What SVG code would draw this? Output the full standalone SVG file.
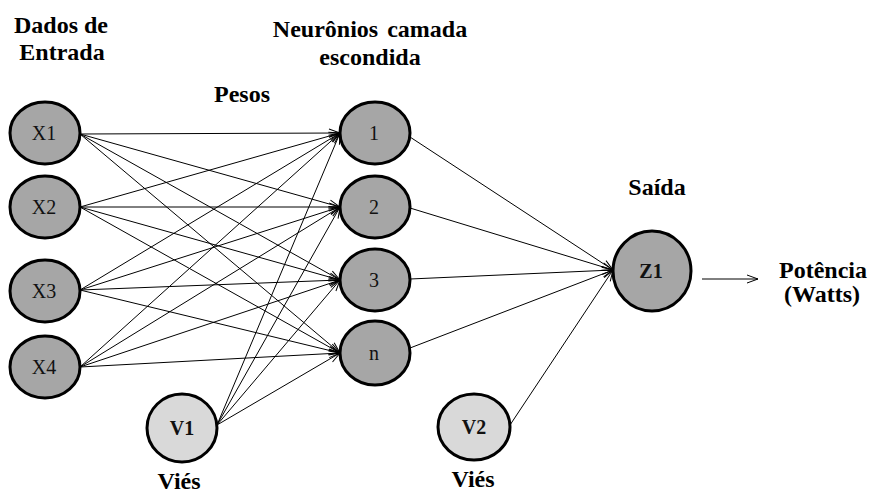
<svg xmlns="http://www.w3.org/2000/svg" width="870" height="494" viewBox="0 0 870 494">
<style>
.n{fill:#a6a6a6;stroke:#000;stroke-width:3}
.b{fill:#d9d9d9;stroke:#000;stroke-width:3}
text{font-family:'Liberation Serif','Times New Roman','DejaVu Serif',serif;text-anchor:middle}
.t{font-size:20px;fill:#111}
.tb{font-size:20px;font-weight:bold;fill:#111}
.h{font-size:24px;font-weight:bold;fill:#000}
.c line{stroke:#000;stroke-width:1;marker-end:url(#a)}
</style>
<defs>
<marker id="a" markerUnits="userSpaceOnUse" markerWidth="14" markerHeight="12" refX="12" refY="5" orient="auto" viewBox="0 0 14 10">
<polyline points="1,1 12,5 1,9" fill="none" stroke="#000" stroke-width="1"/>
</marker>
</defs>
<g id="connectors" class="c">
<line x1="80" y1="134" x2="340" y2="133"/>
<line x1="80" y1="134" x2="340" y2="207"/>
<line x1="80" y1="134" x2="340" y2="280"/>
<line x1="80" y1="134" x2="340" y2="353"/>
<line x1="80" y1="207" x2="340" y2="133"/>
<line x1="80" y1="207" x2="340" y2="207"/>
<line x1="80" y1="207" x2="340" y2="280"/>
<line x1="80" y1="207" x2="340" y2="353"/>
<line x1="80" y1="290" x2="340" y2="133"/>
<line x1="80" y1="290" x2="340" y2="207"/>
<line x1="80" y1="290" x2="340" y2="280"/>
<line x1="80" y1="290" x2="340" y2="353"/>
<line x1="80" y1="367" x2="340" y2="133"/>
<line x1="80" y1="367" x2="340" y2="207"/>
<line x1="80" y1="367" x2="340" y2="280"/>
<line x1="80" y1="367" x2="340" y2="353"/>
<line x1="217" y1="425" x2="340" y2="133"/>
<line x1="217" y1="425" x2="340" y2="207"/>
<line x1="217" y1="425" x2="340" y2="280"/>
<line x1="217" y1="425" x2="340" y2="353"/>
<line x1="410" y1="137" x2="613" y2="270"/>
<line x1="410" y1="208" x2="613" y2="270"/>
<line x1="410" y1="279" x2="613" y2="270"/>
<line x1="410" y1="348" x2="613" y2="270"/>
<line x1="510" y1="425" x2="613" y2="270"/>
<line x1="702" y1="279" x2="758" y2="279"/>
</g>
<g id="X1"><ellipse class="n" cx="45" cy="133" rx="35" ry="31"/><text class="t" x="44" y="140">X1</text></g>
<g id="X2"><ellipse class="n" cx="45" cy="207" rx="35" ry="31"/><text class="t" x="44" y="214">X2</text></g>
<g id="X3"><ellipse class="n" cx="45" cy="291" rx="35" ry="31"/><text class="t" x="44" y="298">X3</text></g>
<g id="X4"><ellipse class="n" cx="45" cy="367" rx="35" ry="31"/><text class="t" x="44" y="374">X4</text></g>
<g id="H1"><ellipse class="n" cx="375" cy="133" rx="35" ry="31"/><text class="t" x="374" y="140">1</text></g>
<g id="H2"><ellipse class="n" cx="375" cy="207" rx="35" ry="31"/><text class="t" x="374" y="214">2</text></g>
<g id="H3"><ellipse class="n" cx="375" cy="280" rx="35" ry="31"/><text class="t" x="374" y="287">3</text></g>
<g id="Hn"><ellipse class="n" cx="375" cy="353" rx="35" ry="32"/><text class="t" x="374" y="360">n</text></g>
<g id="Z1"><ellipse class="n" cx="652" cy="271" rx="39" ry="40"/><text class="tb" x="651" y="278">Z1</text></g>
<g id="V1"><ellipse class="b" cx="182" cy="428" rx="35" ry="34"/><text class="tb" x="182" y="435">V1</text></g>
<g id="V2"><ellipse class="b" cx="474" cy="427" rx="36" ry="33"/><text class="tb" x="474" y="434">V2</text></g>
<g id="labels">
<text class="h" x="61" y="33">Dados de</text>
<text class="h" x="62" y="60">Entrada</text>
<text class="h" x="370" y="37" word-spacing="3">Neurônios camada</text>
<text class="h" x="370" y="65">escondida</text>
<text class="h" x="242" y="102">Pesos</text>
<text class="h" x="657" y="195">Saída</text>
<text class="h" x="823" y="278">Potência</text>
<text class="h" x="822" y="302">(Watts)</text>
<text class="h" x="179" y="489">Viés</text>
<text class="h" x="473" y="487">Viés</text>
</g>
</svg>
